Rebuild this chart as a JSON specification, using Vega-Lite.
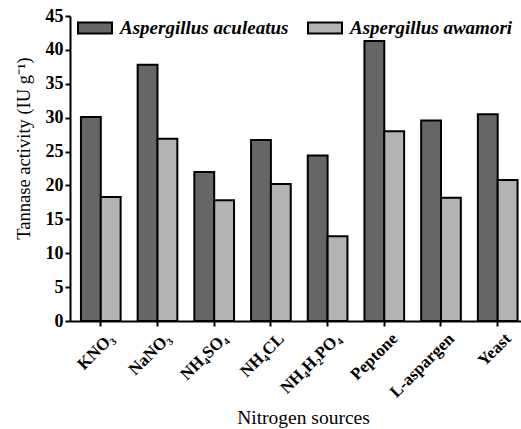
{
  "$schema": "https://vega.github.io/schema/vega-lite/v6.json",
  "autosize": "none",
  "width": 451,
  "height": 305,
  "padding": {"left": 70, "top": 16, "right": 0, "bottom": 108},
  "background": "white",
  "data": {
    "values": [
      {"source": "KNO₃", "species": "Aspergillus aculeatus", "activity": 30.1},
      {"source": "KNO₃", "species": "Aspergillus awamori", "activity": 18.3},
      {"source": "NaNO₃", "species": "Aspergillus aculeatus", "activity": 37.8},
      {"source": "NaNO₃", "species": "Aspergillus awamori", "activity": 26.9},
      {"source": "NH₄SO₄", "species": "Aspergillus aculeatus", "activity": 22.0},
      {"source": "NH₄SO₄", "species": "Aspergillus awamori", "activity": 17.8},
      {"source": "NH₄CL", "species": "Aspergillus aculeatus", "activity": 26.7},
      {"source": "NH₄CL", "species": "Aspergillus awamori", "activity": 20.2},
      {"source": "NH₄H₂PO₄", "species": "Aspergillus aculeatus", "activity": 24.4},
      {"source": "NH₄H₂PO₄", "species": "Aspergillus awamori", "activity": 12.5},
      {"source": "Peptone", "species": "Aspergillus aculeatus", "activity": 41.3},
      {"source": "Peptone", "species": "Aspergillus awamori", "activity": 28.0},
      {"source": "L-aspargen", "species": "Aspergillus aculeatus", "activity": 29.6},
      {"source": "L-aspargen", "species": "Aspergillus awamori", "activity": 18.2},
      {"source": "Yeast", "species": "Aspergillus aculeatus", "activity": 30.5},
      {"source": "Yeast", "species": "Aspergillus awamori", "activity": 20.8}
    ]
  },
  "mark": {"type": "bar", "stroke": "black", "strokeWidth": 2},
  "encoding": {
    "x": {
      "field": "source",
      "type": "nominal",
      "sort": null,
      "scale": {"paddingInner": 0.3, "paddingOuter": 0.127, "align": 0.76},
      "axis": {
        "title": "Nitrogen sources",
        "titleFont": "Times New Roman, Liberation Serif, serif",
        "titleFontSize": 19.5,
        "titleFontWeight": "normal",
        "titleColor": "black",
        "titleX": 233,
        "titleY": 96,
        "titleBaseline": "middle",
        "labelAngle": -45,
        "labelAlign": "right",
        "labelBaseline": "top",
        "labelOffset": 5,
        "labelFont": "Times New Roman, Liberation Serif, serif",
        "labelFontSize": 17,
        "labelFontWeight": "bold",
        "labelColor": "black",
        "labelPadding": 4,
        "domainColor": "black",
        "domainWidth": 2,
        "tickColor": "black",
        "tickWidth": 2,
        "tickSize": 5
      }
    },
    "xOffset": {
      "field": "species",
      "sort": ["Aspergillus aculeatus", "Aspergillus awamori"]
    },
    "y": {
      "field": "activity",
      "type": "quantitative",
      "scale": {"domain": [0, 45], "nice": false},
      "axis": {
        "title": "Tannase activity (IU g⁻¹)",
        "titleFont": "Times New Roman, Liberation Serif, serif",
        "titleFontSize": 18.5,
        "titleFontWeight": "normal",
        "titleColor": "black",
        "titleX": -37,
        "titleY": 132,
        "titleAngle": -90,
        "titleBaseline": "bottom",
        "titleAlign": "center",
        "values": [0, 5, 10, 15, 20, 25, 30, 35, 40, 45],
        "grid": false,
        "labelFont": "Times New Roman, Liberation Serif, serif",
        "labelFontSize": 18,
        "labelFontWeight": "bold",
        "labelColor": "black",
        "labelPadding": 2,
        "domainColor": "black",
        "domainWidth": 2,
        "tickColor": "black",
        "tickWidth": 2,
        "tickSize": 5
      }
    },
    "color": {
      "field": "species",
      "type": "nominal",
      "sort": ["Aspergillus aculeatus", "Aspergillus awamori"],
      "scale": {"range": ["#666666", "#b3b3b3"]},
      "legend": {
        "title": null,
        "orient": "none",
        "direction": "horizontal",
        "legendX": 7,
        "legendY": -6,
        "symbolType": "M-1,-0.33H1V0.33H-1Z",
        "symbolSize": 1156,
        "symbolStrokeColor": "black",
        "symbolStrokeWidth": 2,
        "symbolOpacity": 1,
        "labelFont": "Times New Roman, Liberation Serif, serif",
        "labelFontSize": 19,
        "labelFontStyle": "italic",
        "labelFontWeight": "bold",
        "labelColor": "black",
        "labelOffset": 7,
        "columnPadding": 15,
        "labelLimit": 300
      }
    }
  },
  "config": {"view": {"stroke": null}}
}
